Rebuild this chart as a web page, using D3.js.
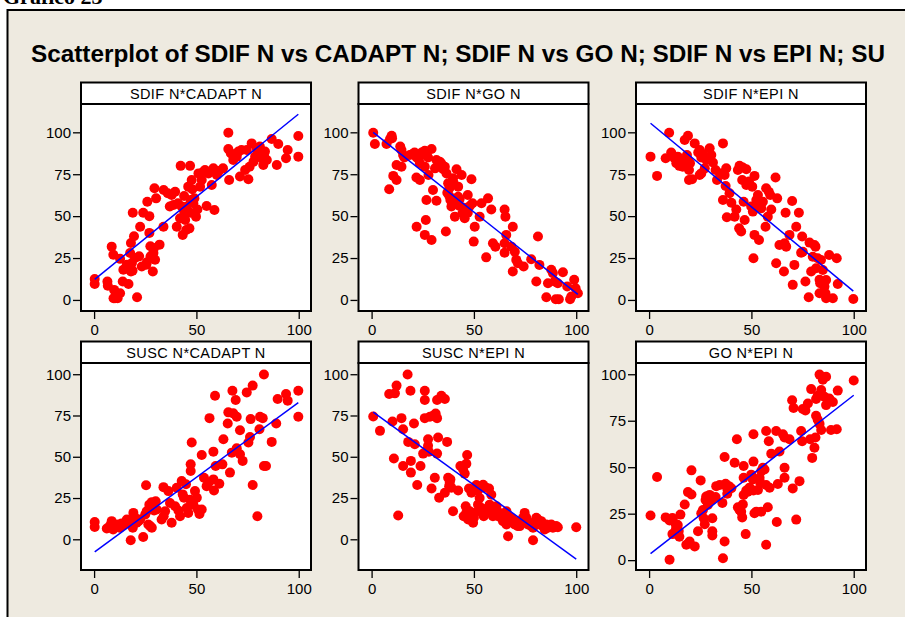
<!DOCTYPE html>
<html>
<head>
<meta charset="utf-8">
<script src="https://cdn.jsdelivr.net/npm/d3@7"></script>
<style>
body{margin:0;background:#fff;}
svg text{font-family:"Liberation Sans",Arial,sans-serif;}
.tick text{font-size:15px;fill:#000;}
.tick line{stroke:#000;stroke-width:1.3;}
</style>
</head>
<body>
<svg id="chart"></svg>
<script>
// values
var title="Scatterplot of SDIF N vs CADAPT N; SDIF N vs GO N; SDIF N vs EPI N; SU";
var stripLabels=["SDIF N*CADAPT N","SDIF N*GO N","SDIF N*EPI N","SUSC N*CADAPT N","SUSC N*EPI N","GO N*EPI N"];
var xTicks=[0,50,100];
var yTicks=[0,25,50,75,100];
var xDomain=[-6.4,106];
var yDomains=[[-6.6,116.9],[-6.6,116.9],[-6.6,116.9],[-18.6,106.8],[-18.6,106.8],[-5.3,106.05]];
// fitted line per panel: [intercept, slope]
var fits=[[12,0.99],[100.7,-0.966],[106.1,-1.01],[-7.9,0.909],[77.8,-0.898],[2.9,0.858]];

var sdifCadapt=[[0.3,12.5],[0.3,9.5],[6.5,11],[6.7,8.5],[8.6,31.8],[9.4,27],[9.8,6],[10.2,1],[11.5,1],[11,4],[12.7,4],[9.5,1],[12.7,24.5],[14.3,18],[14,11],[16.8,9.5],[17.6,28],[18,34],[18.5,22],[18.8,17.5],[18,17],[19.5,38],[18.9,52],[21,1.6],[22,26],[22.5,43.7],[23.3,20],[24,52],[25.5,21],[25.8,22.5],[26,58.6],[27,50],[27,40],[27.5,32],[27.6,26],[28.7,17],[29,28],[29.3,31],[29.8,24],[29.5,66.6],[30.3,60.6],[32,33],[33.9,43.7],[34,65.6],[36,63.6],[37,55.7],[37.9,62.6],[38.8,56.7],[39.6,64.6],[40.4,43.7],[41,57.7],[42,48.7],[42.3,80],[42.8,55.7],[43.3,38.8],[44,52.7],[44.5,47.7],[45,41.7],[45.3,55.7],[46,67.6],[46.6,42.7],[46.9,80],[47.2,59.6],[47.7,71.6],[48.5,57.7],[49,60.6],[49.8,49.7],[50.5,54],[51,75.5],[51.8,67.6],[52.6,71.6],[53.4,76.5],[54.2,77.5],[55,56],[55.9,75.5],[57.5,68.6],[58.3,78.5],[58.8,53.7],[60,74.5],[61,77],[63,78.5],[65.6,99.8],[66,71.6],[65.6,90],[66.8,87.5],[68,83.5],[69.7,85.5],[70.5,88.5],[71.3,73.6],[72,89.5],[73.8,77.5],[74.6,89.5],[75.4,72],[76,79.5],[77,93.4],[77.9,82.5],[78.7,85.5],[79.5,90.5],[80.3,87.5],[81,91.5],[81.9,84.5],[82.7,80.5],[83.5,88.5],[84.4,83.5],[86.8,96],[89.3,80.5],[90,93],[93.8,84.5],[94.6,89.5],[99.8,97.8],[99.8,85.5],[44,62],[47,52],[20,25],[16,21],[48,66],[68,86],[80,86],[83,86]];

var sdifGo=[[0.8,99.8],[1.6,93],[7.3,93],[9,96],[9.8,98],[10,96.5],[8.6,66],[10.6,74],[12.2,71.6],[12.2,80.5],[14,91.5],[14.6,89.5],[14.6,79.5],[15.4,86.5],[16,85],[18.7,86.5],[20,87],[21,88],[22,85],[23,84],[24,87],[22,43.7],[21.9,73],[23.6,71.6],[24.5,88],[25.3,87],[26,89],[26.8,86.5],[27.6,85],[29.3,90],[23.6,81.5],[26,79.5],[26.5,47.7],[26.8,59.6],[26,38.8],[27.8,74.5],[29.3,35.8],[30,65.6],[31,78.5],[31.7,59.2],[31.7,83.5],[33.3,82.5],[34,81.5],[35.8,79.5],[35,78],[36.3,40.8],[36.6,75.5],[37.4,69.6],[38,66.6],[38.5,59.6],[39,55.7],[39.8,72.6],[40.7,49.7],[41.5,78],[42.3,67.6],[42.3,61.6],[43,56],[44,74.5],[44.4,51.7],[45.5,48.7],[46.3,53.7],[47,62.6],[48,56],[48.8,72],[49.3,57.7],[49.9,34.8],[50.4,43.7],[52.8,49.7],[53.7,57.7],[56.9,60.6],[56,25.4],[58.5,54],[59.3,33.8],[60.5,31.8],[65,54],[65.4,49.7],[65.8,38.8],[65,28.2],[65,33.8],[68.3,31.8],[69,43.7],[70,28.8],[70.7,23.9],[69,17],[71.5,21.9],[74.3,19.9],[78,24.3],[81.3,37.8],[82,20.9],[80.5,11],[85.4,1.6],[86.2,10],[87.8,18],[88.6,16],[89.4,11],[91,10],[90,0.4],[91.5,0.4],[93.5,16.5],[95.6,8],[97,0.4],[99,12],[99.7,7],[100.8,4],[97.6,2],[38,62],[40,70],[43,60],[45,55],[37,64],[41,58],[47,52]];

var sdifEpi=[[0.7,85.5],[3.9,74],[8.1,84.5],[9.8,99.8],[10.8,88],[11.3,86.5],[12.4,84.5],[13.3,81.5],[14,85.5],[14.8,80],[15.6,83],[16.4,79.5],[17.4,95.4],[19,98],[18.5,86.5],[19,83.5],[19.5,77.5],[20,81.5],[19.5,71.6],[21,72],[22.3,93.4],[24,88],[24.8,89.5],[25.5,85],[26.3,87],[25.5,75.5],[24.7,74.5],[27.2,78.5],[28,83.5],[29.6,90.5],[30.4,86.5],[31.2,82],[32.5,77.5],[33.2,71.6],[34.8,75.5],[36.1,93.4],[36.1,59.6],[36.9,74.5],[37.7,78.5],[37.4,68],[38,49.3],[39.3,63.6],[40.2,58],[41.8,49.7],[42.6,54],[43.4,77.5],[44.2,80],[45.8,79],[47.5,78],[44,42.7],[45,40.8],[45.5,71.6],[46.2,58.6],[46.7,47.7],[47.5,68.6],[48.8,70.6],[49.9,55.7],[50.4,67.6],[50.7,52.7],[51,24.9],[51.5,74],[51.5,38.8],[52.4,59.6],[53.2,62.6],[53.7,35.8],[54,56.7],[54.8,54.7],[55.6,58.6],[56.9,43.7],[57.2,66.6],[58,49.7],[58.5,64.6],[59.2,62.6],[59.7,54],[61.8,73],[62.1,21.9],[62.6,60.6],[63.7,32.8],[65.9,17],[66.2,33.8],[66.7,52],[67,31.8],[68.6,38.8],[69.9,59],[70.2,9],[71,20.9],[71.9,43.7],[73.2,52],[74.3,28.2],[74.8,37.8],[75.1,28.8],[76.4,11],[78,1.6],[78.4,34.2],[79.2,17],[80,25.8],[80.8,32.8],[81.3,31.8],[81.6,18.9],[82.4,24.9],[83.3,12],[83.6,10],[83.3,4],[84,23.9],[84.9,17.9],[85.7,8],[86.2,4],[86.5,1],[86.5,11.9],[88,26.8],[89.8,1],[91.7,24.9],[92.2,9.5],[99.8,0.6]];

var suscCadapt=[[0.3,10.5],[0.3,7.5],[6.2,6.5],[7.8,8.3],[8.6,11],[9.3,6],[10.2,8],[11.7,9],[12.5,7],[13.4,9.5],[14.3,8.5],[15,10],[16,12],[16.8,10],[17.6,11.5],[18.4,9],[18.9,7],[17.9,-0.6],[19.2,16],[20,13],[20.8,10],[21.7,11],[22.5,12],[24,1.4],[25,15],[25.7,17],[26.5,9],[27.4,8],[28.2,7],[25.4,32.7],[27,21],[28.2,22.5],[29.3,17.5],[30.1,23],[30.6,18],[33,12],[34,14],[33.9,31.6],[34.7,17],[36.3,29.2],[37.1,22],[37.9,10],[39.6,20],[40.4,31.2],[41.2,17.4],[42,14],[42.8,35.3],[43.3,27.2],[43.9,25.2],[44.9,33.3],[45.3,19],[46,16],[46.9,24],[47.2,41.4],[47.2,45.4],[47.7,58.6],[48.5,21],[49.3,29.2],[50.2,25.2],[50.7,18],[51.5,15.4],[52.6,51.1],[52.6,18],[53.7,37.3],[55,32.2],[55.9,34.3],[56.4,73.4],[58.3,53.1],[58.3,36.3],[58.6,29.6],[59.1,87],[59.4,44.4],[61.2,33.7],[62.7,45.4],[63.2,60.6],[65.3,70.2],[65.6,76.9],[66.4,40.4],[67.3,52.5],[67.6,90],[68,76.3],[69.2,84.4],[69.7,74.2],[69.7,55.2],[71.3,66.1],[71.3,51.5],[72.6,47.5],[74.6,89],[75.4,58.6],[76.2,62],[76.5,72.8],[77.5,93.1],[77.5,32.9],[79.8,14],[80.8,66.7],[81.1,74.2],[82.4,73.4],[83,44.4],[84,44.4],[83,99.8],[86.8,59],[89,70.2],[89.7,85],[93.8,88],[94.6,84],[99.8,90],[99.8,74.2]];

var suscEpi=[[0.8,74.4],[4.1,65.7],[8.6,88],[11.4,88.4],[12.2,93.1],[10.2,71.4],[10.9,49],[13,14.4],[14.6,73.4],[15.4,66.7],[15.4,44.4],[17.6,99.8],[17.9,59],[19,90],[19.2,47.5],[19.2,40.4],[20.7,70.2],[21.1,57.6],[22.3,32.9],[23.9,44.4],[25.2,51.9],[26,90],[26,84.4],[26,73.4],[27.2,54],[27.6,56.6],[28,53],[27.6,60.6],[28.5,74.2],[29.3,30.8],[30,74.8],[31.3,76.2],[32,73.4],[30.9,37.3],[32,84.4],[34.1,87],[35.8,85],[32.5,61.7],[32,51.9],[33,25.2],[35.8,28.2],[36.9,59],[37.4,37.3],[38.2,34.3],[39,31.2],[38.5,36.3],[37.9,32.2],[39.8,17],[42.3,29.6],[43.4,44.4],[44.7,42.4],[46.3,45.8],[45.5,39.8],[46.7,51.1],[45,14],[46.3,16],[46,20],[47.2,12],[48,17],[47.6,30.8],[48.8,28.2],[49.6,10],[50,13],[50.4,16],[51.2,32.9],[52,29.6],[52,21],[52.8,25],[53.7,19],[54.2,16],[54.8,14],[54.5,33],[56,31.2],[57.4,30.8],[55.3,17],[56.9,19],[57.7,21],[58.5,16],[58.5,27],[59.3,14],[60.2,17],[61,20],[61.8,14],[62.6,16],[63.4,13],[64.2,11],[65.9,9],[66.7,1.8],[65.9,17],[66.7,14],[68.3,13],[69.9,9],[70.7,11],[71.5,8],[72.4,8],[73.2,11],[74,13],[74.8,16],[75.6,13],[76.4,9],[77.2,10],[78.1,8],[78.9,7],[79.7,10],[80.5,13],[81.3,12],[82.1,9],[82.9,11],[83.7,8],[84.6,6],[85.4,9],[86.2,7],[87,8],[87.8,9],[88.6,7],[90.2,8],[91,7.3],[78.9,-0.6],[100,7.3]];

var goEpi=[[0.7,24],[3.9,44.7],[8.1,23],[10,21.3],[11.4,22.7],[10,0.2],[11.4,14],[12.4,14.5],[13.2,17.1],[14,18.9],[14.5,15.7],[14.8,12.6],[15.3,24.5],[13,19.5],[17.4,29.9],[18.2,8.3],[19.8,10],[22.3,7.4],[19,36.6],[20.7,35.3],[20.7,48.3],[23.9,15.5],[25.2,42.9],[25.5,25.2],[26.3,27],[26.7,22.5],[27.2,19.3],[27.6,32.4],[27.9,34.2],[28.7,29.7],[29.6,35.1],[30.4,32.4],[30.9,22.5],[30.9,15.5],[30.9,13.3],[32.5,34],[32.8,39.8],[34.5,40.4],[35.8,30.8],[36.1,1],[36.9,10],[36.9,55.5],[37.4,41.1],[38.2,38.4],[39,39.8],[40.2,38.7],[38.2,35.7],[41.8,52.4],[42.9,65],[43.4,28.5],[44.2,27],[45,26],[45.5,23],[45.8,30],[46.2,35],[46.2,50.6],[46.2,44.3],[47.2,14],[47.5,37.5],[48.3,36.8],[49.1,39],[49.9,46],[50.7,43.4],[51,37.5],[51,53],[51,67.7],[51.5,25.2],[52.4,26.1],[53.2,37.8],[54,44.3],[54.3,41.6],[54.8,47.9],[54.8,26.1],[55.6,49.7],[56.4,48.8],[57.2,40.4],[57.2,69.5],[57.2,8.3],[58,28.5],[58.5,64],[58.9,38.9],[59.7,57.3],[62.1,69.5],[62.4,20.5],[62.9,41],[63.7,58.4],[65.4,67.7],[66.2,66],[66.2,49.7],[66.2,44.3],[68.6,65],[69.9,86],[70.6,81.8],[70.2,38.6],[71.9,21.8],[73.5,42.5],[74.3,69.5],[74.8,64],[75.1,81.3],[76.4,80.5],[77.6,84.3],[78.7,65],[79.2,92],[79.7,55],[80.8,60.5],[81.3,66],[81.6,77.7],[82.4,75.5],[83.3,73.3],[84.1,70],[81.6,86.7],[82.4,88.5],[83.3,99.8],[84.9,97],[86.5,98.7],[84.1,91.5],[85.7,87.9],[86.5,83.4],[88.1,86.9],[89.8,85.1],[88.9,70],[91.7,70.4],[92.2,91.2],[100,96.6]];

var series=[sdifCadapt,sdifGo,sdifEpi,suscCadapt,suscEpi,goEpi];

var W=905,H=617;
var panelLefts=[81,358.5,636],panelW=230;
var rowTops=[82.5,341.5],stripH=21.5,plotH=207;

var svg=d3.select("#chart").attr("width",W).attr("height",H);

// page label, cut off at the top of the picture
svg.append("text")
   .attr("x",3).attr("y",4)
   .style("font-family","'Liberation Serif',serif")
   .style("font-weight","bold").style("font-size","22px")
   .text("Grafico 23");

svg.append("rect")
   .attr("x",7.5).attr("y",10).attr("width",W).attr("height",H)
   .attr("fill","#EEEAE0").attr("stroke","#000").attr("stroke-width",2);

svg.append("text")
   .attr("x",31).attr("y",61.7)
   .attr("textLength",854).attr("lengthAdjust","spacingAndGlyphs")
   .style("font-weight","bold").style("font-size","23px")
   .text(title);

series.forEach(function(pts,i){
  var col=i%3,row=Math.floor(i/3);
  var left=panelLefts[col],top=rowTops[row];
  var pTop=top+stripH,pBot=pTop+plotH;
  var x=d3.scaleLinear().domain(xDomain).range([left,left+panelW]);
  var y=d3.scaleLinear().domain(yDomains[i]).range([pBot,pTop]);
  var g=svg.append("g");

  g.append("rect")
   .attr("x",left).attr("y",top).attr("width",panelW).attr("height",stripH)
   .attr("fill","#fff").attr("stroke","#000").attr("stroke-width",2);
  g.append("text")
   .attr("x",left+panelW/2).attr("y",top+stripH-5)
   .attr("text-anchor","middle")
   .style("font-size","14.5px").style("letter-spacing","0.4px")
   .text(stripLabels[i]);

  g.append("rect")
   .attr("x",left).attr("y",pTop).attr("width",panelW).attr("height",plotH)
   .attr("fill","#fff");

  g.selectAll("circle").data(pts).enter().append("circle")
   .attr("cx",function(d){return x(d[0]);})
   .attr("cy",function(d){return y(d[1]);})
   .attr("r",5).attr("fill","#FF0000");

  var xs=d3.extent(pts,function(d){return d[0];});
  var f=fits[i];
  var line=d3.line().x(function(d){return x(d);}).y(function(d){return y(f[0]+f[1]*d);});
  g.append("path").datum(xs).attr("d",line)
   .attr("fill","none").attr("stroke","#0000FF").attr("stroke-width",1.5);

  g.append("rect")
   .attr("x",left).attr("y",pTop).attr("width",panelW).attr("height",plotH)
   .attr("fill","none").attr("stroke","#000").attr("stroke-width",2);

  var xAxis=d3.axisBottom(x).tickValues(xTicks).tickSize(7).tickPadding(5);
  var yAxis=d3.axisLeft(y).tickValues(yTicks).tickSize(7).tickPadding(2);
  g.append("g").attr("transform","translate(0,"+(pBot+1)+")").call(xAxis)
   .call(function(a){a.select(".domain").remove();});
  g.append("g").attr("transform","translate("+(left-1)+",0)").call(yAxis)
   .call(function(a){a.select(".domain").remove();});
});
</script>
</body>
</html>
